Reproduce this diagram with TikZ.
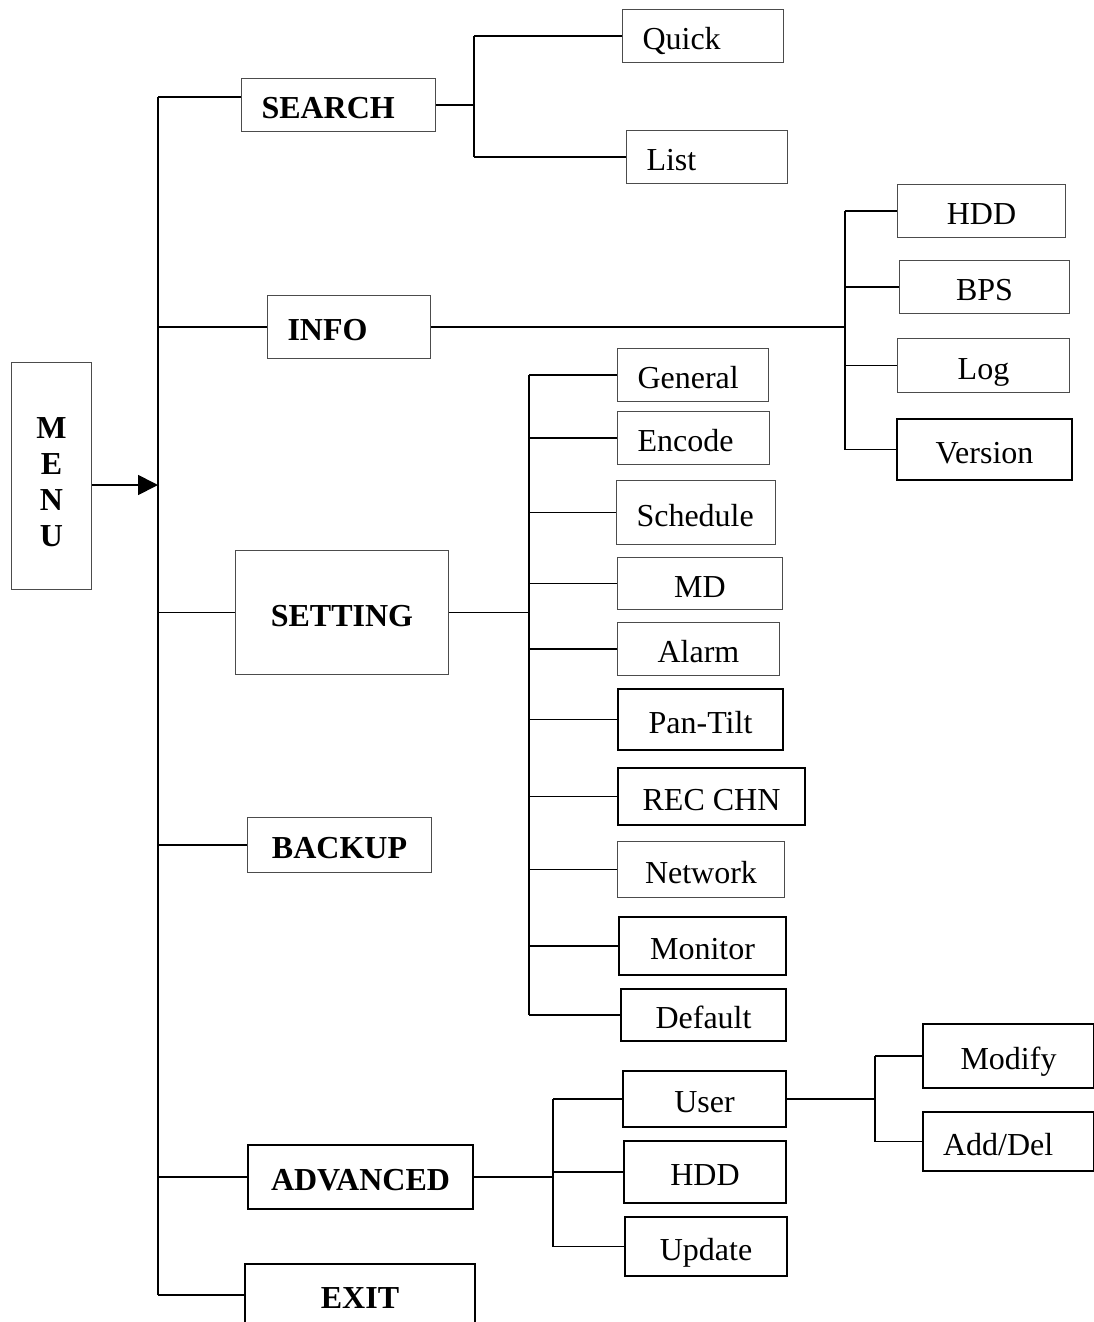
\documentclass[tikz,border=0pt]{standalone}
\usepackage{fontspec}
\setmainfont{Liberation Serif}
\usetikzlibrary{arrows.meta}

\begin{document}
\begin{tikzpicture}[x=1pt, y=-1pt, >={Triangle[length=20pt,width=20pt]},
  box/.style={draw=black!70, line width=1pt, anchor=north west, inner sep=0pt,
    text height=27pt, text depth=0pt, font=\fontsize{32}{36}\selectfont},
  tbox/.style={box, draw=black, line width=2pt},
  hd/.style={font=\fontsize{32}{36}\selectfont\bfseries},
  lft/.style={inner xsep=20pt, align=left},
  ln/.style={line width=1.8pt}]
  \useasboundingbox (0,0) rectangle (1094,1322);
  % main menu and first level
  \node[box, hd, align=center, text height=140pt, minimum width=80, minimum height=227] (menu) at (11,362) {M\\E\\N\\U};
  \node[box, hd, lft, text width=154, minimum height=53] (search) at (241,78) {SEARCH};
  \node[box, hd, lft, text width=123, minimum height=63] (info) at (267,295) {INFO};
  \node[box, hd, minimum width=213, minimum height=124] (setting) at (235,550) {SETTING};
  \node[box, hd, minimum width=184, minimum height=55] (backup) at (247,817) {BACKUP};
  \node[tbox, hd, minimum width=225, minimum height=64] (advanced) at (247,1144) {ADVANCED};
  \node[tbox, hd, minimum width=230, minimum height=62] (exit) at (244,1263) {EXIT};
  % search
  \node[box, lft, text width=121, minimum height=53] (quick) at (622,9) {Quick};
  \node[box, lft, text width=121, minimum height=53] (list) at (626,130) {List};
  % info
  \node[box, minimum width=168, minimum height=53] (hdd) at (897,184) {HDD};
  \node[box, minimum width=170, minimum height=53] (bps) at (899,260) {BPS};
  \node[box, minimum width=172, minimum height=54] (log) at (897,338) {Log};
  \node[tbox, minimum width=175, minimum height=61] (version) at (896,418) {Version};
  % setting
  \node[box, lft, text width=111, minimum height=53] (general) at (617,348) {General};
  \node[box, lft, text width=112, minimum height=53] (encode) at (617,411) {Encode};
  \node[box, lft, text width=119, minimum height=64] (schedule) at (616,480) {Schedule};
  \node[box, minimum width=165, minimum height=52] (md) at (617,557) {MD};
  \node[box, minimum width=162, minimum height=53] (alarm) at (617,622) {Alarm};
  \node[tbox, minimum width=165, minimum height=61] (pantilt) at (617,688) {Pan-Tilt};
  \node[tbox, minimum width=187, minimum height=57] (recchn) at (617,767) {REC CHN};
  \node[box, minimum width=167, minimum height=56] (network) at (617,841) {Network};
  \node[tbox, minimum width=167, minimum height=58] (monitor) at (618,916) {Monitor};
  \node[tbox, minimum width=165, minimum height=52] (default) at (620,988) {Default};
  % advanced
  \node[tbox, minimum width=163, minimum height=56] (user) at (622,1070) {User};
  \node[tbox, minimum width=162, minimum height=62] (ahdd) at (623,1140) {HDD};
  \node[tbox, minimum width=162, minimum height=59] (update) at (624,1216) {Update};
  \node[tbox, minimum width=171, minimum height=64] (modify) at (922,1023) {Modify};
  \node[tbox, lft, text width=131, minimum height=59] (adddel) at (922,1111) {Add/Del};

  % spine
  \coordinate (top) at (158,97);
  \coordinate (mid) at (158,485);
  \draw[ln] (top) -- (top |- exit.west);
  \draw[ln,->] (menu.east |- mid) -- (mid);
  \draw[ln] (top) -- (top -| search.west);
  \foreach \n in {info,setting,backup,advanced,exit}
    \draw[ln] (top |- \n.west) -- (\n.west);
  % search bus
  \coordinate (sbus) at (474,104);
  \draw[ln] (search.east) -- (search.east -| sbus);
  \draw[ln] (sbus |- quick.west) -- (sbus |- list.west);
  \foreach \n in {quick,list}
    \draw[ln] (sbus |- \n.west) -- (\n.west);
  % info bus
  \coordinate (ibus) at (845,326);
  \draw[ln] (info.east) -- (info.east -| ibus);
  \draw[ln] (ibus |- hdd.west) -- (ibus |- version.west);
  \foreach \n in {hdd,bps,log,version}
    \draw[ln] (ibus |- \n.west) -- (\n.west);
  % setting bus
  \coordinate (stbus) at (529,615);
  \draw[ln] (setting.east) -- (setting.east -| stbus);
  \draw[ln] (stbus |- general.west) -- (stbus |- default.west);
  \foreach \n in {general,encode,schedule,md,alarm,pantilt,recchn,network,monitor,default}
    \draw[ln] (stbus |- \n.west) -- (\n.west);
  % advanced bus
  \coordinate (abus) at (553,1176);
  \draw[ln] (advanced.east) -- (advanced.east -| abus);
  \draw[ln] (abus |- user.west) -- (abus |- update.west);
  \foreach \n in {user,ahdd,update}
    \draw[ln] (abus |- \n.west) -- (\n.west);
  % user bus
  \coordinate (ubus) at (875,1098);
  \draw[ln] (user.east) -- (user.east -| ubus);
  \draw[ln] (ubus |- modify.west) -- (ubus |- adddel.west);
  \foreach \n in {modify,adddel}
    \draw[ln] (ubus |- \n.west) -- (\n.west);
\end{tikzpicture}
\end{document}
